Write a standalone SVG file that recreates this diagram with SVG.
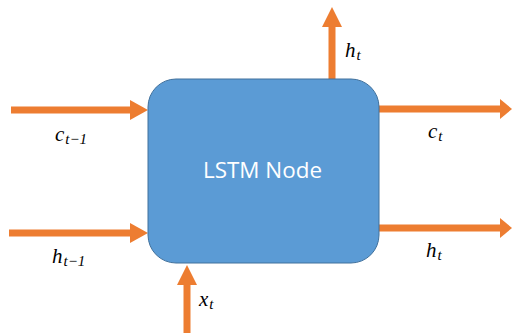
<svg xmlns="http://www.w3.org/2000/svg" width="512" height="333" viewBox="0 0 512 333">
  <style>
    .box { fill: #5B9BD5; stroke: #41719C; stroke-width: 1; }
    .title { font-family: "Open Sans", "Liberation Sans", sans-serif; font-size: 21px; fill: #FFFFFF; }
    .wire { stroke: #ED7D31; stroke-width: 7; fill: none; }
    .head { fill: #ED7D31; }
    .math { font-family: "Liberation Serif", "DejaVu Serif", serif; font-style: italic; font-size: 21px; fill: #000000; }
    .sub { font-size: 15px; }
  </style>
  <rect width="512" height="333" fill="#FFFFFF"/>

  <g id="connectors">
    <!-- c(t-1) in -->
    <line class="wire" x1="11" y1="110" x2="131" y2="110"/>
    <polygon class="head" points="130,100 148,110 130,120"/>
    <!-- h(t-1) in -->
    <line class="wire" x1="9" y1="233" x2="131" y2="233"/>
    <polygon class="head" points="130,223 148,233 130,243"/>
    <!-- h(t) up -->
    <line class="wire" x1="332" y1="79" x2="332" y2="26"/>
    <polygon class="head" points="322,27 332,7 342,27"/>
    <!-- c(t) out -->
    <line class="wire" x1="379" y1="109" x2="501" y2="109"/>
    <polygon class="head" points="500,99 512,109 500,119"/>
    <!-- h(t) out -->
    <line class="wire" x1="379" y1="228" x2="501" y2="228"/>
    <polygon class="head" points="500,218 512,228 500,238"/>
    <!-- x(t) in -->
    <line class="wire" x1="187" y1="333" x2="187" y2="284"/>
    <polygon class="head" points="177,285 187,265 197,285"/>
  </g>

  <g id="lstm-node">
    <rect class="box" x="148" y="79" width="231" height="184" rx="28" ry="28"/>
    <text class="title" x="262.5" y="178" text-anchor="middle" textLength="119" lengthAdjust="spacingAndGlyphs">LSTM Node</text>
  </g>

  <g id="labels">
    <text class="math" x="55" y="141">c<tspan class="sub" dy="3" dx="1">t−1</tspan></text>
    <text class="math" x="52" y="263">h<tspan class="sub" dy="3" dx="1">t−1</tspan></text>
    <text class="math" x="345" y="57">h<tspan class="sub" dy="3" dx="1">t</tspan></text>
    <text class="math" x="428" y="138">c<tspan class="sub" dy="3" dx="1">t</tspan></text>
    <text class="math" x="426" y="257">h<tspan class="sub" dy="3" dx="1">t</tspan></text>
    <text class="math" x="199" y="306">x<tspan class="sub" dy="3" dx="1">t</tspan></text>
  </g>
</svg>
